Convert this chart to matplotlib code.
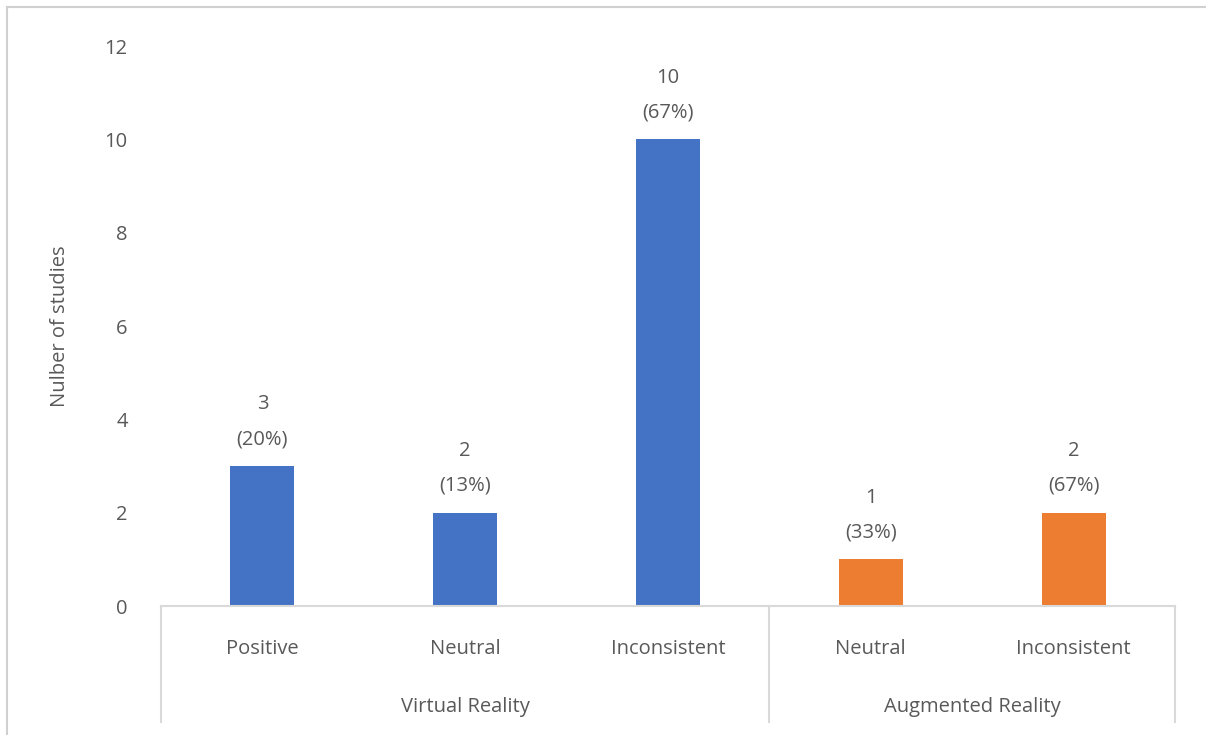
import matplotlib
matplotlib.use("Agg")
import matplotlib.pyplot as plt
from matplotlib.lines import Line2D

# data
groups = ["Virtual Reality", "Augmented Reality"]
group_sizes = [3, 2]
categories = ["Positive", "Neutral", "Inconsistent", "Neutral", "Inconsistent"]
counts = [3, 2, 10, 1, 2]
percents = ["20%", "13%", "67%", "33%", "67%"]
group_colors = ["#4472C4", "#ED7D31"]

TEXT = "#595959"
LINE = "#d9d9d9"
FS = 14.5

plt.rcParams["font.family"] = ["Open Sans", "DejaVu Sans"]


def draw_chart():
    fig = plt.figure(figsize=(12.06, 7.35), dpi=100)
    ax = fig.add_axes([161 / 1206, (735 - 606) / 735, (1175 - 161) / 1206, (606 - 46) / 735])

    colors = []
    for c, n in zip(group_colors, group_sizes):
        colors += [c] * n
    x = list(range(len(counts)))
    ax.bar(x, counts, width=0.316, color=colors, zorder=2)

    for xi, v, p in zip(x, counts, percents):
        ax.annotate("{}\n({})".format(v, p), (xi, v), xytext=(0, 12), textcoords="offset points",
                    ha="center", va="bottom", fontsize=FS, color=TEXT, linespacing=2.0)

    ax.set_xlim(-0.5, len(counts) - 0.5)
    ax.set_ylim(0, 12)
    ax.set_yticks(range(0, 13, 2))
    ax.tick_params(axis="y", length=0, pad=24, labelsize=FS, labelcolor=TEXT)
    ax.set_xticks(x)
    ax.set_xticklabels(categories)
    ax.tick_params(axis="x", length=0, pad=24, labelsize=FS, labelcolor=TEXT)

    for s in ["top", "right", "left"]:
        ax.spines[s].set_visible(False)
    ax.spines["bottom"].set_color(LINE)
    ax.spines["bottom"].set_linewidth(1.5)

    ax.set_ylabel("Nulber of studies", fontsize=FS, color=TEXT)
    ax.yaxis.set_label_coords(-0.09, 0.5)

    # multi-level category axis
    tr = ax.get_xaxis_transform()
    depth = -(722 - 606) / 560
    edges = [-0.5]
    for n in group_sizes:
        edges.append(edges[-1] + n)
    for e in edges:
        ax.add_line(Line2D([e, e], [0, depth], transform=tr, color=LINE, linewidth=1.5, clip_on=False))
    for g, a, b in zip(groups, edges[:-1], edges[1:]):
        ax.text((a + b) / 2, -(707 - 606) / 560, g, transform=tr, ha="center", va="center",
                fontsize=FS, color=TEXT)

    # chart frame
    fig.add_artist(Line2D([7 / 1206, 7 / 1206], [0, 1 - 7 / 735], color="#d0d0d0", linewidth=1.5))
    fig.add_artist(Line2D([7 / 1206, 1], [1 - 7 / 735, 1 - 7 / 735], color="#d0d0d0", linewidth=1.5))

    fig.savefig("out.png", dpi=100)
    plt.close()


if __name__ == "__main__":
    draw_chart()
